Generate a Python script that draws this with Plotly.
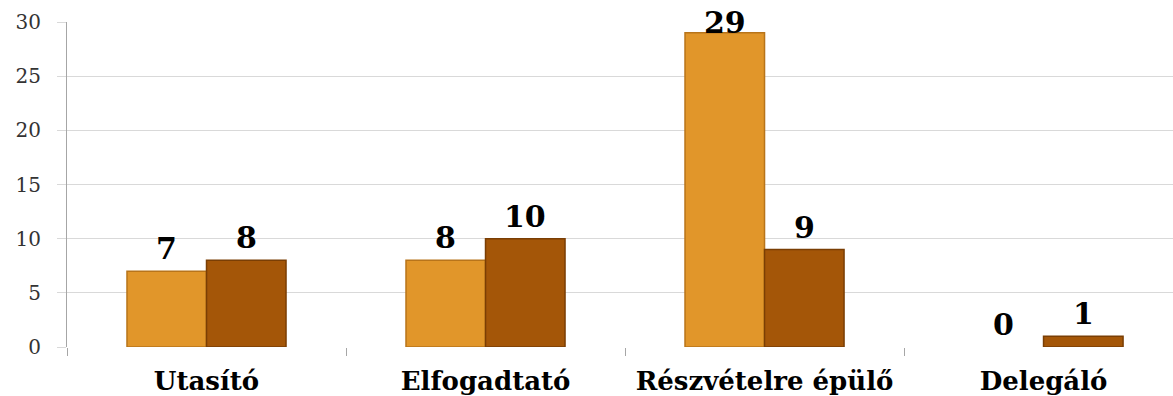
import plotly.graph_objects as go

categories = ["Utasító", "Elfogadtató", "Részvételre épülő", "Delegáló"]
series_a = [7, 8, 29, 0]
series_b = [8, 10, 9, 1]
y_ticks = [0, 5, 10, 15, 20, 25, 30]

Y_MAX = 30
BARGAP = 0.43
LABEL_CEIL = Y_MAX - 2.1  # keep labels inside plot area like the original

fig = go.Figure()
fig.add_trace(go.Bar(
    x=categories, y=series_a, name="A",
    marker=dict(color="#E1962A",
                line=dict(color="#B8741A", width=[1.5 if v > 0 else 0 for v in series_a])),
))
fig.add_trace(go.Bar(
    x=categories, y=series_b, name="B",
    marker=dict(color="#A45608",
                line=dict(color="#7A3E04", width=[1.5 if v > 0 else 0 for v in series_b])),
))

half = (1 - BARGAP) / 4
for offset, series in ((-half, series_a), (half, series_b)):
    for i, v in enumerate(series):
        fig.add_annotation(
            x=i + offset, y=min(v, LABEL_CEIL), xref="x", yref="y",
            text=str(v), showarrow=False, yanchor="bottom", yshift=3,
            font=dict(family="DejaVu Serif", size=30, color="black", weight="bold"),
        )

fig.update_layout(
    width=1173, height=396,
    margin=dict(l=67, r=0, t=22, b=49),
    paper_bgcolor="white", plot_bgcolor="white",
    barmode="group", bargap=BARGAP, bargroupgap=0,
    showlegend=False,
    font=dict(family="DejaVu Serif"),
)
fig.update_xaxes(
    range=[-0.5, 3.464], automargin=False,
    showline=False, showgrid=False,
    ticks="outside", tickson="boundaries", ticklen=8, tickcolor="#a6a6a6",
    ticklabelstandoff=16,
    tickfont=dict(family="DejaVu Serif", size=26, color="black", weight="bold"),
)
fig.update_yaxes(
    range=[0, Y_MAX], tickvals=y_ticks, automargin=False,
    showgrid=True, gridcolor="#d9d9d9", gridwidth=1,
    showline=True, linecolor="#a6a6a6", linewidth=1,
    ticks="outside", ticklen=9, tickcolor="#d9d9d9",
    ticklabelstandoff=12,
    tickfont=dict(family="DejaVu Serif", size=20, color="#333333"),
    zeroline=False,
)
fig.write_html("out.html")
